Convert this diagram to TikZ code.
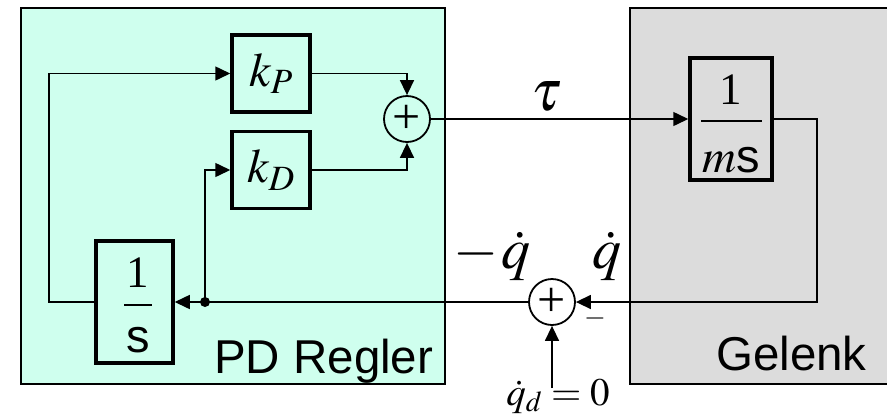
\documentclass[tikz,border=0pt]{standalone}
\usepackage{mathptmx}
\usepackage[no-math]{fontspec}
\setmainfont{Liberation Serif}
\setsansfont{Liberation Sans}
\usetikzlibrary{arrows.meta,positioning}
\definecolor{reg}{HTML}{CFFFEE}
\definecolor{gel}{HTML}{DCDCDC}
\newcommand{\fsz}[1]{\fontsize{#1}{#1}\selectfont}
\tikzset{
  blk/.style={draw,line width=3.5pt,inner sep=0pt,font=\fsz{48}},
  sumn/.style={draw,circle,line width=1.8pt,minimum size=46pt,inner sep=0pt,font=\fsz{50}},
  sig/.style={line width=1.5pt,-{Triangle[length=15pt,width=14pt]}},
  area/.style={draw,line width=1.5pt},
  lab/.style={inner sep=0pt,font=\fsz{58}},
  txt/.style={inner sep=0pt,font=\fsz{47.5}\sffamily},
}
\begin{document}
\begin{tikzpicture}[x=1pt,y=-1pt]
\useasboundingbox (0,0) rectangle (887,416);
% the two sub systems
\draw[area,fill=reg] (21,8) rectangle (445,384);
\draw[area,fill=gel] (630,8) rectangle (895,384);
\node[txt,anchor=base west] (pdlab) at (214,373) {PD Regler};
\node[txt,anchor=base west] (gellab) at (716,370) {Gelenk};

% blocks
\node[blk,minimum width=78pt,minimum height=77pt] (kp) at (271,73.5) {$k_P$};
\node[blk,minimum width=78pt,minimum height=77pt] (kd) at (271,170) {$k_D$};
\node[sumn] (sum1) at (407,119) {+};
\node[blk,minimum width=82pt,minimum height=122pt] (plant) at (731,119) {};
\node[inner sep=0pt,font=\fsz{45}] (pnum) at (731,90) {1};
\draw[line width=1.5pt] (701,121) -- (762,121);
\node[inner sep=0pt,font=\fsz{47},anchor=base] (pden) at (731,172) {$m$\textsf{s}};
\node[blk,minimum width=77pt,minimum height=122pt] (integ) at (134.5,302) {};
\node[inner sep=0pt,font=\fsz{45}] (inum) at (137.5,273) {1};
\draw[line width=1.5pt] (124,305) -- (152,305);
\node[inner sep=0pt,font=\fsz{47}\sffamily,anchor=base] (iden) at (138,352) {s};
\node[sumn] (sum2) at (552,302) {+};
\coordinate (br) at (205,302);
\coordinate (fb) at (49,302);
\coordinate (ret) at (817,302);
\coordinate (qd) at (552,388);

% signals
\draw[sig] (kp.east) -| (sum1.north);
\draw[sig] (kd.east) -| (sum1.south);
\draw[sig] (sum1.east) -- (plant.west);
\draw[sig] (plant.east) -| (ret) -- (sum2.east);
\draw[sig] (sum2.west) -- (integ.east);
\draw[sig] (br) |- (kd.west);
\draw[sig] (integ.west) -- (fb) |- (kp.west);
\draw[sig] (qd) -- (sum2.south);
\fill (br) circle (5pt);

% labels
\node[lab,anchor=base] (tau) at (547,110) {$\tau$};
\node[lab,anchor=base east] (mqdot) at (531,268) {$-\mkern1mu\dot q$};
\node[lab,anchor=base] (qdot) at (607,268) {$\dot q$};
\node[inner sep=0pt,font=\fsz{28}] (neg) at (595,318) {$-$};
\node[inner sep=0pt,font=\fsz{39},anchor=base] (qdes) at (558,405) {$\dot q_d = 0$};
\end{tikzpicture}
\end{document}
